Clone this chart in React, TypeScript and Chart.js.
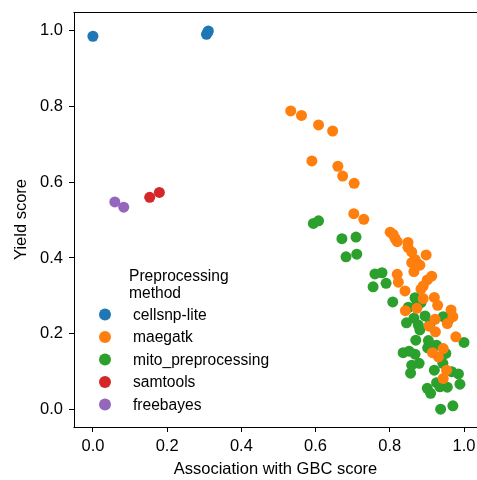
import React, { useEffect, useRef } from "react";
import { Chart, registerables } from "chart.js";

Chart.register(...registerables);

const seriesLabels = ["cellsnp-lite", "maegatk", "mito_preprocessing", "samtools", "freebayes"];
const seriesColors = ["#1f77b4", "#ff7f0e", "#2ca02c", "#d62728", "#9467bd"];

const cellsnpX = [0.0, 0.306, 0.309, 0.311];
const cellsnpY = [0.985, 0.990, 0.995, 0.999];

const maegatkX = [0.533, 0.562, 0.608, 0.646, 0.590, 0.660, 0.673, 0.704, 0.703, 0.730, 0.801, 0.809, 0.814, 0.820, 0.849, 0.849, 0.859, 0.898, 0.868, 0.859, 0.874, 0.881, 0.865, 0.820, 0.913, 0.901, 0.823, 0.890, 0.884, 0.841, 0.920, 0.890, 0.929, 0.842, 0.873, 0.965, 0.970, 0.922, 0.906, 0.955, 0.923, 0.978, 0.944, 0.915, 0.931, 0.953, 0.944];
const maegatkY = [0.788, 0.776, 0.751, 0.735, 0.656, 0.642, 0.616, 0.597, 0.517, 0.502, 0.468, 0.462, 0.452, 0.443, 0.441, 0.428, 0.416, 0.408, 0.396, 0.388, 0.386, 0.381, 0.364, 0.357, 0.352, 0.342, 0.336, 0.326, 0.318, 0.313, 0.296, 0.293, 0.275, 0.261, 0.267, 0.263, 0.245, 0.238, 0.220, 0.227, 0.205, 0.192, 0.161, 0.150, 0.139, 0.104, 0.082];

const mitoX = [0.594, 0.608, 0.671, 0.709, 0.682, 0.711, 0.760, 0.779, 0.790, 0.755, 0.808, 0.868, 0.874, 0.884, 0.850, 0.895, 0.944, 0.958, 0.865, 0.845, 0.908, 0.877, 0.881, 0.870, 0.904, 1.000, 0.902, 0.926, 0.836, 0.852, 0.868, 0.951, 0.859, 0.879, 0.920, 0.943, 0.967, 0.985, 0.856, 0.926, 0.989, 0.935, 0.955, 0.901, 0.910, 0.937, 0.970];
const mitoY = [0.491, 0.498, 0.451, 0.455, 0.403, 0.410, 0.358, 0.361, 0.333, 0.324, 0.284, 0.295, 0.284, 0.282, 0.270, 0.247, 0.245, 0.236, 0.241, 0.229, 0.225, 0.223, 0.210, 0.183, 0.182, 0.177, 0.163, 0.170, 0.150, 0.154, 0.146, 0.148, 0.117, 0.122, 0.104, 0.122, 0.100, 0.094, 0.096, 0.071, 0.067, 0.060, 0.059, 0.056, 0.043, 0.001, 0.010];

const samtoolsX = [0.153, 0.179];
const samtoolsY = [0.560, 0.573];

const freebayesX = [0.059, 0.083];
const freebayesY = [0.548, 0.534];

const xTicks = [0.0, 0.2, 0.4, 0.6, 0.8, 1.0];
const yTicks = [0.0, 0.2, 0.4, 0.6, 0.8, 1.0];

const legendTitle = ["Preprocessing", "method"];
const xTitle = "Association with GBC score";
const yTitle = "Yield score";

const FONT = "'Liberation Sans', Arial, Helvetica, sans-serif";

const zip = (xs: number[], ys: number[]) => xs.map((x, i) => ({ x, y: ys[i] }));

const legendPlugin = {
  id: "customLegend",
  afterDraw(chart: any) {
    const ctx = chart.ctx;
    const area = chart.chartArea;
    const W = chart.width;
    ctx.save();
    // top and bottom spines (extend to the figure edge)
    ctx.strokeStyle = "#000";
    ctx.lineWidth = 1;
    ctx.beginPath();
    ctx.moveTo(area.left - 0.5, area.top + 0.5);
    ctx.lineTo(W, area.top + 0.5);
    ctx.moveTo(area.left - 0.5, area.bottom + 0.5);
    ctx.lineTo(W, area.bottom + 0.5);
    ctx.stroke();

    ctx.fillStyle = "#000";
    ctx.textAlign = "left";
    ctx.textBaseline = "alphabetic";
    ctx.font = `15.6px ${FONT}`;
    ctx.fillText(legendTitle[0], 129, 281);
    ctx.fillText(legendTitle[1], 129, 297.5);
    const startY = 314.5;
    const step = 22.5;
    chart.data.datasets.forEach((ds: any, i: number) => {
      const y = startY + i * step;
      ctx.beginPath();
      ctx.fillStyle = ds.backgroundColor;
      ctx.arc(105, y, 6, 0, Math.PI * 2);
      ctx.fill();
      ctx.fillStyle = "#000";
      ctx.textBaseline = "middle";
      ctx.fillText(ds.label, 133, y + 1);
    });
    ctx.restore();
  },
};

export default function App() {
  const ref = useRef<HTMLCanvasElement | null>(null);
  useEffect(() => {
    if (!ref.current) return;
    const allX = [cellsnpX, maegatkX, mitoX, samtoolsX, freebayesX];
    const allY = [cellsnpY, maegatkY, mitoY, samtoolsY, freebayesY];
    const datasets = seriesLabels.map((label, i) => ({
      label,
      data: zip(allX[i], allY[i]),
      backgroundColor: seriesColors[i],
      borderWidth: 0,
      pointRadius: 5.5,
      pointHoverRadius: 5.5,
    }));
    const tickFont = { family: FONT, size: 16.5 };
    const chart = new Chart(ref.current, {
      type: "scatter",
      data: { datasets },
      options: {
        animation: false,
        responsive: false,
        devicePixelRatio: 1,
        events: [],
        layout: { autoPadding: false, padding: { left: 0, top: 12, right: 0, bottom: 0 } },
        plugins: { legend: { display: false }, tooltip: { enabled: false } },
        scales: {
          x: {
            type: "linear",
            min: -0.051,
            max: 1.035,
            afterBuildTicks: (s: any) => {
              s.ticks = xTicks.map((v) => ({ value: v }));
            },
            afterFit: (s: any) => {
              s.height = 53;
              s.paddingLeft = 0;
              s.paddingRight = 0;
            },
            ticks: {
              callback: (v: any) => Number(v).toFixed(1),
              font: tickFont,
              color: "#000",
              padding: 5,
              maxRotation: 0,
              autoSkip: false,
            },
            grid: {
              drawOnChartArea: false,
              drawTicks: true,
              tickLength: 5,
              tickColor: "#000",
              tickWidth: 1,
            },
            border: { display: false },
            title: {
              display: true,
              text: xTitle,
              font: tickFont,
              color: "#000",
              padding: { top: 0, bottom: 1 },
            },
          },
          y: {
            type: "linear",
            min: -0.046,
            max: 1.049,
            afterBuildTicks: (s: any) => {
              s.ticks = yTicks.map((v) => ({ value: v }));
            },
            afterFit: (s: any) => {
              s.width = 74;
              s.paddingTop = 0;
              s.paddingBottom = 0;
            },
            ticks: {
              callback: (v: any) => Number(v).toFixed(1),
              font: tickFont,
              color: "#000",
              padding: 6,
              autoSkip: false,
            },
            grid: {
              drawOnChartArea: false,
              drawTicks: true,
              tickLength: 5,
              tickColor: "#000",
              tickWidth: 1,
            },
            border: { display: true, color: "#000", width: 1 },
            title: {
              display: true,
              text: yTitle,
              font: tickFont,
              color: "#000",
              padding: { top: 12, bottom: 0 },
            },
          },
        },
      },
      plugins: [legendPlugin],
    } as any);
    return () => chart.destroy();
  }, []);
  return (
    <canvas
      ref={ref}
      width={477}
      height={480}
      style={{ position: "absolute", left: 0, top: 0, width: 477, height: 480, display: "block" }}
    />
  );
}
